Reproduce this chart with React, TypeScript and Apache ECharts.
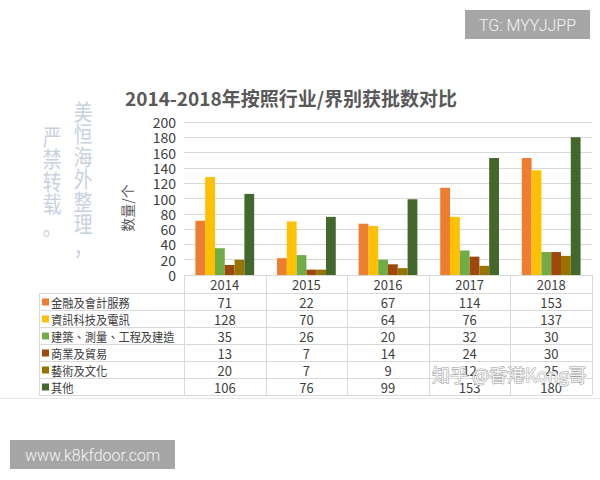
import React, { useEffect, useRef } from "react";
import * as echarts from "echarts";

const years = ["2014", "2015", "2016", "2017", "2018"];
const seriesNames = [
  "金融及會計服務",
  "資訊科技及電訊",
  "建築、測量、工程及建造",
  "商業及貿易",
  "藝術及文化",
  "其他",
];
const finance = [71, 22, 67, 114, 153];
const itTelecom = [128, 70, 64, 76, 137];
const construction = [35, 26, 20, 32, 30];
const trade = [13, 7, 14, 24, 30];
const arts = [20, 7, 9, 12, 25];
const others = [106, 76, 99, 153, 180];
const seriesData = [finance, itTelecom, construction, trade, arts, others];
const colors = ["#ED7D31", "#FFC000", "#70AD47", "#9E480E", "#997300", "#43682B"];

const Y_MIN = 0;
const Y_MAX = 200;
const Y_STEP = 20;

const W = 600;
const H = 480;
const GL = 184;
const GR = 8;
const GT = 122;
const GB = 205;
const TABLE_LEFT = 39;
const HEADER_TOP = H - GB;
const ROW_TOP = 293;
const ROW_H = 17;
const FONT = "'Noto Sans CJK SC', 'Noto Sans', sans-serif";
const GRID_COLOR = "#d9d9d9";

export default function App() {
  const ref = useRef<HTMLDivElement>(null);
  useEffect(() => {
    if (!ref.current) return;
    const chart = echarts.init(ref.current, null, { renderer: "svg" });
    const plotW = W - GL - GR;
    const colW = plotW / years.length;
    const right = W - GR;
    const tableBottom = ROW_TOP + ROW_H * seriesNames.length;

    const graphics: any[] = [];
    for (let k = 0; k <= seriesNames.length; k++) {
      const y = ROW_TOP + k * ROW_H + 0.5;
      graphics.push({
        type: "line",
        shape: { x1: TABLE_LEFT, y1: y, x2: right, y2: y },
        style: { stroke: GRID_COLOR, lineWidth: 1 },
      });
    }
    graphics.push({
      type: "line",
      shape: { x1: TABLE_LEFT + 0.5, y1: ROW_TOP, x2: TABLE_LEFT + 0.5, y2: tableBottom },
      style: { stroke: GRID_COLOR, lineWidth: 1 },
    });
    for (let j = 0; j <= years.length; j++) {
      const x = Math.round(GL + j * colW) + 0.5;
      graphics.push({
        type: "line",
        shape: { x1: x, y1: HEADER_TOP, x2: x, y2: tableBottom },
        style: { stroke: GRID_COLOR, lineWidth: 1 },
      });
    }
    seriesNames.forEach((name, k) => {
      const cy = ROW_TOP + k * ROW_H + ROW_H / 2 + 0.5;
      graphics.push({
        type: "rect",
        shape: { x: 42, y: cy - 3.5, width: 7, height: 7 },
        style: { fill: colors[k] },
      });
      graphics.push({
        type: "text",
        x: 51,
        y: cy,
        scaleX: 0.9,
        style: {
          text: name,
          fontSize: 12.5,
          fontFamily: "'Noto Sans CJK TC', sans-serif",
          fill: "#404040",
          align: "left",
          verticalAlign: "middle",
        },
      });
      seriesData[k].forEach((v, j) => {
        graphics.push({
          type: "text",
          x: GL + (j + 0.5) * colW,
          y: cy,
          style: {
            text: String(v),
            fontSize: 13,
            fontFamily: FONT,
            fill: "#404040",
            align: "center",
            verticalAlign: "middle",
          },
        });
      });
    });
    graphics.push({
      type: "text",
      x: 127,
      y: 208,
      rotation: Math.PI / 2,
      style: {
        text: "数量/个",
        fontSize: 14,
        fontFamily: FONT,
        fill: "#595959",
        align: "center",
        verticalAlign: "middle",
      },
    });
    graphics.push({
      type: "text",
      x: 83,
      y: 99,
      scaleX: 0.85,
      style: {
        text: "美恒海外整理，".split("").join("\n"),
        fontSize: 22,
        lineHeight: 22.5,
        fontFamily: FONT,
        fill: "#c7d2de",
        align: "center",
        verticalAlign: "top",
      },
    });
    graphics.push({
      type: "text",
      x: 52,
      y: 124,
      scaleX: 0.85,
      style: {
        text: "严禁转载。".split("").join("\n"),
        fontSize: 22,
        lineHeight: 22.5,
        fontFamily: FONT,
        fill: "#c7d2de",
        align: "center",
        verticalAlign: "top",
      },
    });
    graphics.push({
      type: "text",
      x: 432,
      y: 374,
      z: 100,
      style: {
        text: "知乎 @香港Kong哥",
        fontSize: 18,
        fontFamily: FONT,
        fill: "rgba(255,255,255,0.85)",
        stroke: "#a0a0a0",
        lineWidth: 1,
        align: "left",
        verticalAlign: "middle",
      },
    });
    graphics.push({
      type: "line",
      shape: { x1: 0, y1: 398.5, x2: W, y2: 398.5 },
      style: { stroke: "#e8e8e8", lineWidth: 1 },
    });
    graphics.push({
      type: "rect",
      shape: { x: 465, y: 10, width: 125, height: 29 },
      style: { fill: "#a6a6a6" },
    });
    graphics.push({
      type: "text",
      x: 527.5,
      y: 25,
      style: {
        text: "TG: MYYJJPP",
        fontSize: 16,
        fontFamily: "Roboto, 'Liberation Sans', sans-serif",
        fontWeight: 300,
        fill: "#f4f4f4",
        align: "center",
        verticalAlign: "middle",
      },
    });
    graphics.push({
      type: "rect",
      shape: { x: 10, y: 440, width: 165, height: 29 },
      style: { fill: "#a6a6a6" },
    });
    graphics.push({
      type: "text",
      x: 92.5,
      y: 455,
      style: {
        text: "www.k8kfdoor.com",
        fontSize: 16,
        fontFamily: "Roboto, 'Liberation Sans', sans-serif",
        fontWeight: 300,
        fill: "#f4f4f4",
        align: "center",
        verticalAlign: "middle",
      },
    });

    chart.setOption({
      animation: false,
      backgroundColor: "#ffffff",
      textStyle: { fontFamily: FONT },
      title: {
        text: "2014-2018年按照行业/界别获批数对比",
        left: 125,
        top: 88,
        padding: 0,
        textStyle: {
          fontSize: 19,
          fontWeight: "bold",
          color: "#595959",
          fontFamily: FONT,
        },
      },
      grid: { left: GL, right: GR, top: GT, bottom: GB, containLabel: false },
      xAxis: {
        type: "category",
        data: years,
        axisLine: { show: true, lineStyle: { color: GRID_COLOR } },
        axisTick: { show: false },
        axisLabel: { color: "#404040", fontSize: 13, margin: 3, fontFamily: FONT },
      },
      yAxis: {
        type: "value",
        min: Y_MIN,
        max: Y_MAX,
        interval: Y_STEP,
        axisLine: { show: false },
        axisTick: { show: false },
        axisLabel: { color: "#404040", fontSize: 14, margin: 8, fontFamily: FONT },
        splitLine: { lineStyle: { color: GRID_COLOR } },
      },
      series: seriesNames.map((name, k) => ({
        name,
        type: "bar",
        data: seriesData[k],
        barGap: "0%",
        barCategoryGap: "28%",
        itemStyle: { color: colors[k] },
      })),
      graphic: graphics,
    });
    return () => chart.dispose();
  }, []);
  return (
    <div
      ref={ref}
      style={{ position: "fixed", left: 0, top: 0, width: W, height: H, background: "#fff" }}
    />
  );
}
